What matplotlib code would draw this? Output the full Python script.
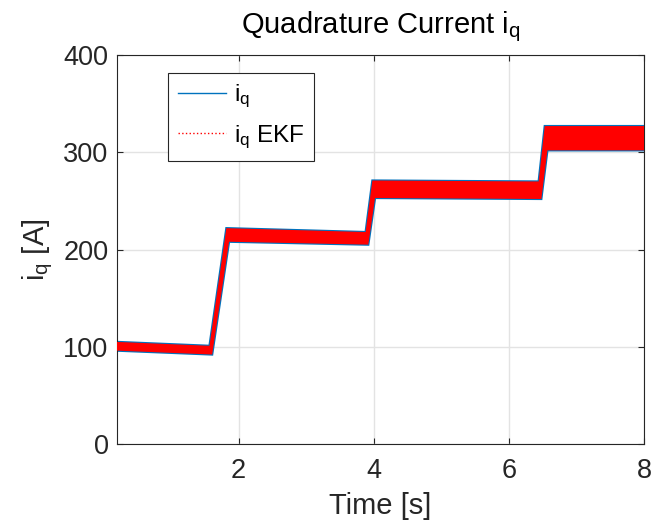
import numpy as np
import matplotlib
matplotlib.use('Agg')
import matplotlib.pyplot as plt
from matplotlib.lines import Line2D

plt.rcParams.update({'font.family': ['Liberation Sans', 'DejaVu Sans'],
                     'mathtext.default': 'regular'})

# Envolvente de la corriente i_q
up_t = [0.20, 1.57, 1.82, 3.88, 3.98, 6.44, 6.53, 8.00]
up_v = [105, 101, 222, 218, 271, 270, 327, 327]
lo_t = [0.20, 1.61, 1.86, 3.92, 4.02, 6.48, 6.57, 8.00]
lo_v = [96, 92, 208, 205, 253, 252, 302, 302]

xticks = [2, 4, 6, 8]
yticks = [0, 100, 200, 300, 400]

blue = '#0072BD'
red = '#FF0000'

fig = plt.figure(figsize=(6.64, 5.27), dpi=100)
ax = fig.add_axes([0.176, 0.1575, 0.794, 0.738])

# poligono: borde superior hacia delante, inferior hacia atras
px = np.concatenate([up_t, lo_t[::-1]])
py = np.concatenate([up_v, lo_v[::-1]])
ax.fill(px, py, facecolor=blue, edgecolor=blue, lw=1.6, zorder=2)
ax.fill(px, py, facecolor=red, edgecolor='none', zorder=3)

ax.set_xlim(0.2, 8)
ax.set_ylim(0, 400)
ax.set_xticks(xticks)
ax.set_yticks(yticks)
ax.grid(True, color='#e3e3e3', lw=1)
ax.set_axisbelow(True)
ax.tick_params(direction='in', top=True, right=True, labelsize=19.5,
               colors='#262626', length=4)
ax.tick_params(axis='x', pad=10)
ax.tick_params(axis='y', pad=6)
for s in ax.spines.values():
    s.set_color('#262626')

ax.set_title('Quadrature Current i$_q$', fontsize=21, color='black', pad=16)
ax.set_xlabel('Time [s]', fontsize=21, color='#262626', labelpad=6)
ax.set_ylabel('i$_q$ [A]', fontsize=21, color='#262626', labelpad=6)

handles = [Line2D([], [], color=blue, lw=1),
           Line2D([], [], color=red, lw=1, ls=':')]
leg = ax.legend(handles, ['i$_q$', 'i$_q$ EKF'], loc='upper left',
                bbox_to_anchor=(0.097, 0.954), borderaxespad=0,
                fontsize=17.5, fancybox=False, framealpha=1,
                edgecolor='#262626', handlelength=2.0, handletextpad=0.3,
                labelspacing=0.55, borderpad=0.4)
leg.get_frame().set_linewidth(0.8)

fig.savefig('out.png', dpi=100)
